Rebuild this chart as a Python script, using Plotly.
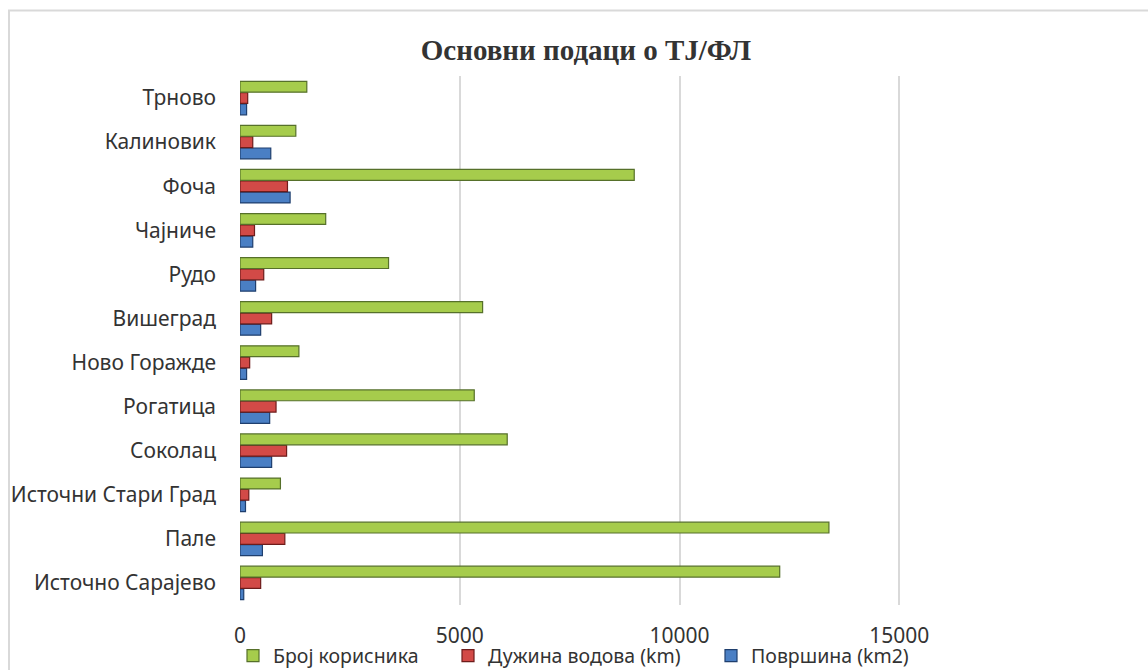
import plotly.graph_objects as go

# Municipalities, listed from the bottom of the chart to the top
categories = [
    "Источно Сарајево", "Пале", "Источни Стари Град", "Соколац", "Рогатица",
    "Ново Горажде", "Вишеград", "Рудо", "Чајниче", "Фоча", "Калиновик", "Трново",
]
users = [12280, 13400, 920, 6080, 5330, 1340, 5520, 3380, 1950, 8970, 1270, 1520]
pipe_length_km = [470, 1020, 200, 1060, 820, 220, 720, 540, 330, 1080, 290, 175]
area_km2 = [85, 510, 125, 720, 675, 150, 470, 355, 290, 1140, 700, 150]

x_ticks = [0, 5000, 10000, 15000]

FONT = "Noto Sans"
TEXT = "#333333"

W, H = 1148, 670
ml, mr, mt, mb = 240, 29, 76, 65
pw, ph = W - ml - mr, H - mt - mb


def px_x(x):
    """Horizontal pixel position -> paper coordinate."""
    return (x - ml) / pw


def px_y(y):
    """Vertical pixel position (from top) -> paper coordinate."""
    return (H - mb - y) / ph


fig = go.Figure()
# (name, values, fill, edge, legend id, legend text x)
series = [
    ("Површина (km2)", area_km2, "#4a7fc4", "#1f3f6e", "legend3", 711),
    ("Дужина водова (km)", pipe_length_km, "#d24a47", "#6e1c1b", "legend2", 448),
    ("Број корисника", users, "#a6cc4c", "#56702a", "legend", 233),
]
legend_cfg = {}
for name, vals, fill, edge, leg, lx in series:
    fig.add_trace(go.Bar(
        y=categories, x=vals, name=name, orientation="h", legend=leg,
        marker=dict(color=fill, line=dict(color=edge, width=1.2)),
    ))
    legend_cfg[leg] = dict(
        orientation="h", x=px_x(lx), xanchor="left",
        y=px_y(656), yanchor="middle",
        font=dict(family=FONT, size=19.5, color=TEXT),
        itemwidth=30, bgcolor="rgba(0,0,0,0)",
    )

fig.update_layout(
    width=W, height=H,
    margin=dict(l=ml, r=mr, t=mt, b=mb, autoexpand=False),
    paper_bgcolor="white", plot_bgcolor="white",
    barmode="group", bargap=0.23, bargroupgap=0.04,
    title=dict(
        text="<b>Основни подаци о ТЈ/ФЛ</b>",
        font=dict(family="Liberation Serif", size=29, color=TEXT),
        x=586 / W, xanchor="center", xref="container",
        y=1 - 50 / H, yanchor="middle", yref="container",
    ),
    font=dict(family=FONT, size=19, color=TEXT),
    showlegend=True,
    xaxis=dict(
        range=[0, 20000], tickvals=x_ticks, ticktext=[str(v) for v in x_ticks],
        showgrid=True, gridcolor="#d9d9d9", gridwidth=2,
        zeroline=False, showline=False, automargin=False,
        ticks="", ticklabelstandoff=16,
        tickfont=dict(family=FONT, size=21, color=TEXT),
    ),
    yaxis=dict(
        showgrid=False, zeroline=False, showline=False, automargin=False,
        ticks="", ticklabelstandoff=23,
        tickfont=dict(family=FONT, size=21, color=TEXT),
    ),
    **legend_cfg,
)

# Outer chart frame
fig.add_shape(
    type="rect", xref="paper", yref="paper",
    x0=px_x(9), x1=px_x(W + 20),
    y0=px_y(H + 20), y1=px_y(10.5),
    line=dict(color="#d9d9d9", width=2), fillcolor="rgba(0,0,0,0)", layer="below",
)

fig.write_html("out.html")
